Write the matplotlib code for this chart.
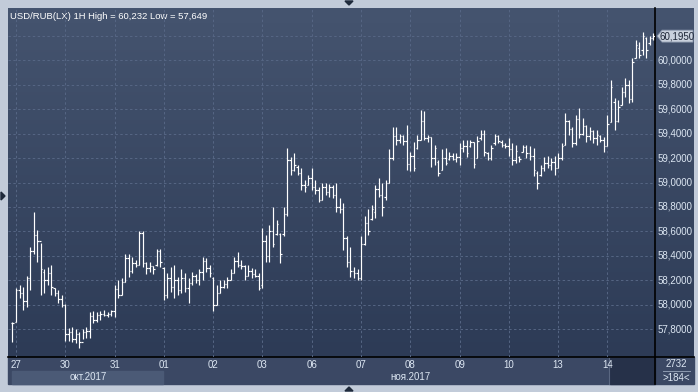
import numpy as np
import matplotlib.pyplot as plt
from matplotlib.patches import Rectangle, Polygon
from matplotlib.colors import LinearSegmentedColormap

plt.rcParams["font.family"] = ["Liberation Sans", "DejaVu Sans"]

W, H = 698, 392

title = "USD/RUB(LX) 1H High = 60,232 Low = 57,649"
day_labels = ["27", "30", "31", "01", "02", "03", "06", "07", "08", "09", "10", "13", "14"]
bars_per_day = 14
month_labels = ["окт.2017", "ноя.2017"]
y_ticks = [57.8, 58.0, 58.2, 58.4, 58.6, 58.8, 59.0, 59.2, 59.4, 59.6, 59.8, 60.0]
grid_levels = y_ticks + [60.2]
last_price_label = "60,1950"
bar_total = "2732"
bar_visible = ">184<"

# first bar is the last hour of 26 oct, then 14 hourly bars per day
high = [
    57.86,
    58.14, 58.16, 58.15, 58.24, 58.47, 58.76, 58.61, 58.51, 58.29, 58.31, 58.33, 58.14, 58.12, 58.08,
    58.01, 57.81, 57.82, 57.80, 57.78, 57.80, 57.82, 57.94, 57.95, 57.94, 57.95, 57.96, 57.94, 57.96,
    58.16, 58.20, 58.22, 58.42, 58.42, 58.39, 58.37, 58.60, 58.60, 58.35, 58.35, 58.32, 58.46, 58.46,
    58.31, 58.26, 58.31, 58.33, 58.23, 58.29, 58.26, 58.22, 58.27, 58.25, 58.29, 58.39, 58.38, 58.33,
    58.23, 58.16, 58.20, 58.20, 58.23, 58.29, 58.39, 58.43, 58.37, 58.33, 58.33, 58.30, 58.29, 58.26,
    58.63, 58.57, 58.65, 58.80, 58.69, 58.59, 58.80, 59.28, 59.21, 59.24, 59.14, 59.12, 59.02, 59.06,
    59.12, 59.02, 58.96, 59.00, 59.00, 58.99, 58.98, 59.00, 58.87, 58.83, 58.56, 58.47, 58.31, 58.29,
    58.56, 58.73, 58.78, 58.82, 58.98, 59.04, 59.00, 59.02, 59.27, 59.45, 59.45, 59.40, 59.39, 59.47,
    59.25, 59.33, 59.39, 59.59, 59.58, 59.39, 59.37, 59.31, 59.18, 59.27, 59.28, 59.25, 59.24, 59.24,
    59.32, 59.35, 59.35, 59.35, 59.33, 59.38, 59.43, 59.43, 59.25, 59.31, 59.40, 59.39, 59.35, 59.32,
    59.36, 59.32, 59.31, 59.22, 59.31, 59.31, 59.30, 59.28, 59.09, 59.14, 59.21, 59.22, 59.20, 59.22,
    59.24, 59.32, 59.57, 59.51, 59.45, 59.55, 59.61, 59.53, 59.47, 59.45, 59.43, 59.43, 59.39, 59.37,
    59.55, 59.84, 59.69, 59.67, 59.78, 59.85, 59.84, 60.02, 60.16, 60.15, 60.232, 60.19, 60.20, 60.22,
]
low = [
    57.70,
    57.86, 58.06, 57.96, 57.98, 58.12, 58.42, 58.35, 58.08, 58.10, 58.16, 58.08, 58.07, 58.02, 57.98,
    57.71, 57.71, 57.70, 57.69, 57.649, 57.72, 57.73, 57.73, 57.85, 57.86, 57.88, 57.91, 57.90, 57.91,
    57.90, 58.06, 58.08, 58.19, 58.23, 58.26, 58.31, 58.33, 58.31, 58.25, 58.27, 58.25, 58.32, 58.31,
    58.04, 58.06, 58.11, 58.06, 58.08, 58.10, 58.11, 58.02, 58.16, 58.18, 58.16, 58.20, 58.27, 58.23,
    57.95, 58.00, 58.10, 58.14, 58.14, 58.20, 58.26, 58.31, 58.29, 58.20, 58.24, 58.22, 58.23, 58.12,
    58.14, 58.35, 58.35, 58.47, 58.57, 58.34, 58.56, 58.73, 59.06, 59.09, 59.06, 58.94, 58.92, 58.98,
    58.94, 58.91, 58.84, 58.86, 58.90, 58.88, 58.87, 58.76, 58.75, 58.45, 58.31, 58.23, 58.22, 58.20,
    58.20, 58.49, 58.57, 58.69, 58.71, 58.88, 58.73, 58.86, 59.00, 59.18, 59.31, 59.32, 59.31, 59.10,
    59.09, 59.09, 59.27, 59.35, 59.35, 59.33, 59.13, 59.14, 59.05, 59.10, 59.14, 59.18, 59.18, 59.17,
    59.14, 59.25, 59.21, 59.29, 59.12, 59.20, 59.35, 59.22, 59.18, 59.18, 59.31, 59.32, 59.29, 59.28,
    59.22, 59.14, 59.16, 59.17, 59.25, 59.20, 59.18, 59.05, 58.95, 59.05, 59.09, 59.12, 59.10, 59.06,
    59.12, 59.18, 59.31, 59.39, 59.29, 59.31, 59.36, 59.39, 59.33, 59.35, 59.32, 59.31, 59.33, 59.25,
    59.30, 59.49, 59.43, 59.49, 59.63, 59.70, 59.65, 59.66, 60.02, 60.02, 60.04, 60.02, 60.12, 60.16,
]
open_ = [
    57.85,
    57.86, 58.12, 58.10, 58.03, 58.22, 58.44, 58.57, 58.52, 58.27, 58.20, 58.26, 58.14, 58.10, 58.05,
    58.00, 57.76, 57.78, 57.72, 57.76, 57.70, 57.78, 57.79, 57.91, 57.88, 57.92, 57.93, 57.92, 57.93,
    57.95, 58.13, 58.08, 58.19, 58.38, 58.28, 58.34, 58.33, 58.59, 58.34, 58.30, 58.32, 58.33, 58.44,
    58.30, 58.08, 58.22, 58.15, 58.20, 58.12, 58.22, 58.14, 58.18, 58.24, 58.20, 58.27, 58.36, 58.30,
    58.22, 58.00, 58.10, 58.15, 58.17, 58.20, 58.26, 58.36, 58.33, 58.32, 58.24, 58.28, 58.25, 58.24,
    58.16, 58.52, 58.40, 58.60, 58.58, 58.58, 58.58, 58.74, 59.18, 59.10, 59.13, 59.08, 58.98, 58.98,
    59.04, 58.96, 58.94, 58.86, 58.96, 58.92, 58.96, 58.90, 58.80, 58.78, 58.55, 58.35, 58.28, 58.26,
    58.22, 58.50, 58.67, 58.70, 58.76, 58.95, 58.90, 58.88, 59.00, 59.20, 59.38, 59.35, 59.38, 59.34,
    59.15, 59.22, 59.28, 59.35, 59.50, 59.36, 59.37, 59.20, 59.17, 59.10, 59.20, 59.19, 59.22, 59.19,
    59.21, 59.28, 59.30, 59.30, 59.33, 59.20, 59.36, 59.40, 59.24, 59.20, 59.32, 59.38, 59.33, 59.31,
    59.30, 59.27, 59.18, 59.21, 59.25, 59.29, 59.24, 59.22, 59.08, 59.06, 59.12, 59.16, 59.14, 59.17,
    59.12, 59.20, 59.31, 59.50, 59.44, 59.32, 59.52, 59.40, 59.46, 59.38, 59.42, 59.36, 59.38, 59.35,
    59.30, 59.49, 59.66, 59.50, 59.63, 59.74, 59.80, 59.68, 60.02, 60.10, 60.08, 60.18, 60.14, 60.18,
]
close = [
    57.85,
    58.12, 58.10, 58.03, 58.22, 58.44, 58.57, 58.52, 58.29, 58.20, 58.26, 58.15, 58.10, 58.05, 58.00,
    57.76, 57.78, 57.72, 57.76, 57.70, 57.78, 57.79, 57.91, 57.88, 57.92, 57.93, 57.92, 57.93, 57.95,
    58.13, 58.08, 58.19, 58.38, 58.28, 58.34, 58.33, 58.59, 58.34, 58.30, 58.32, 58.29, 58.44, 58.35,
    58.08, 58.22, 58.15, 58.20, 58.12, 58.22, 58.14, 58.18, 58.24, 58.20, 58.27, 58.36, 58.30, 58.26,
    58.00, 58.10, 58.15, 58.17, 58.20, 58.26, 58.36, 58.33, 58.32, 58.24, 58.28, 58.25, 58.24, 58.14,
    58.52, 58.40, 58.60, 58.50, 58.66, 58.42, 58.74, 59.18, 59.10, 59.14, 59.08, 58.98, 58.96, 59.04,
    58.96, 58.94, 58.86, 58.96, 58.92, 58.96, 58.90, 58.80, 58.78, 58.55, 58.35, 58.28, 58.26, 58.22,
    58.50, 58.67, 58.60, 58.78, 58.95, 58.90, 58.80, 59.00, 59.20, 59.38, 59.35, 59.38, 59.34, 59.15,
    59.22, 59.12, 59.35, 59.50, 59.36, 59.37, 59.20, 59.28, 59.08, 59.20, 59.16, 59.22, 59.19, 59.21,
    59.28, 59.30, 59.24, 59.33, 59.15, 59.34, 59.40, 59.25, 59.20, 59.28, 59.38, 59.34, 59.31, 59.30,
    59.27, 59.18, 59.26, 59.19, 59.29, 59.24, 59.22, 59.10, 59.00, 59.12, 59.16, 59.14, 59.17, 59.12,
    59.20, 59.30, 59.50, 59.44, 59.32, 59.52, 59.40, 59.46, 59.38, 59.42, 59.36, 59.39, 59.35, 59.30,
    59.48, 59.78, 59.50, 59.62, 59.74, 59.80, 59.68, 59.98, 60.12, 60.04, 60.20, 60.08, 60.18, 60.195,
]

# layout in pixels
PL, PR, PT, PB = 8, 655, 8, 357      # price area
FR, FB = 694, 384                    # outer panel edge
YLO, YHI = 57.5755, 60.4245
XLO, XHI = -1.27, 182.5

panel_top = "#45546f"
panel_bot = "#2b3954"
strip_col = "#3b4864"
grid_col = "#566684"
text_col = "#dce6f2"


def ypx(v):
    return PB - (v - YLO) / (YHI - YLO) * (PB - PT)


fig = plt.figure(figsize=(W / 100, H / 100), dpi=100)
fig.patch.set_facecolor("#c2cbd9")

bg = fig.add_axes([0, 0, 1, 1])
bg.set_xlim(0, W)
bg.set_ylim(H, 0)
bg.axis("off")

cmap = LinearSegmentedColormap.from_list("panel", [panel_top, panel_bot])
bg.imshow(np.linspace(0, 1, 256)[:, None], cmap=cmap, extent=[PL, FR, FB, PT],
          aspect="auto", zorder=0)

# bottom date strip
bg.add_patch(Rectangle((PL, PB), FR - PL, FB - PB, color=strip_col, zorder=1))
bg.add_patch(Rectangle((12, 371), 151, FB - 371, color="#4b5a76", zorder=1))
bg.add_patch(Rectangle((610, PB + 1), PR - 610, FB - PB - 1, color="#263149", zorder=1))
bg.plot([609, 609], [PB + 1, FB], color="#5a6781", lw=0.8, zorder=2)
bg.text(88, 377.5, month_labels[0], color=text_col, fontsize=7, ha="center", va="center", zorder=3)
bg.text(410, 377, month_labels[1], color=text_col, fontsize=7, ha="center", va="center", zorder=3)

# bar counter box
bg.text(676, 364, bar_total, color=text_col, fontsize=7, ha="center", va="center", zorder=3)
bg.plot([663, 690], [370.5, 370.5], color="#8d9ab0", lw=0.7, zorder=3)
bg.text(676, 378, bar_visible, color=text_col, fontsize=7, ha="center", va="center", zorder=3)

# black separators
bg.plot([PR, PR], [PT, FB], color="black", lw=1.2, zorder=4)
bg.plot([PL, FR], [PB, PB], color="black", lw=1.2, zorder=4)

# small frame arrows
arrow_col = "#1f2a3b"
bg.add_patch(Polygon([(345, 1), (353, 1), (349, 5)], color=arrow_col, zorder=4))
bg.add_patch(Polygon([(1, 192), (1, 200), (5, 196)], color=arrow_col, zorder=4))
bg.add_patch(Polygon([(345, 391), (353, 391), (349, 387)], color=arrow_col, zorder=4))

bg.text(10, 16, title, color="white", fontsize=6.8, ha="left", va="center", zorder=5)

# price area
ax = fig.add_axes([PL / W, 1 - PB / H, (PR - PL) / W, (PB - PT) / H])
ax.set_facecolor("none")
ax.set_xlim(XLO, XHI)
ax.set_ylim(YLO, YHI)
ax.axis("off")

day_pos = [1 + bars_per_day * d for d in range(len(day_labels))]
for v in grid_levels:
    ax.axhline(v, color=grid_col, lw=0.7, ls=(0, (2.5, 2.5)), zorder=1)
for p in day_pos:
    ax.axvline(p, color=grid_col, lw=0.7, ls=(0, (2.5, 2.5)), zorder=1)

x = np.arange(len(high))
ax.vlines(x, low, high, color="white", lw=0.85, zorder=3)
ax.hlines(open_, x - 0.42, x, color="white", lw=0.85, zorder=3)
ax.hlines(close, x, x + 0.42, color="white", lw=0.85, zorder=3)

xt = ax.get_xaxis_transform()
for p, lab in zip(day_pos, day_labels):
    ax.text(p, -0.024, lab, transform=xt, color=text_col, fontsize=7,
            ha="center", va="center", clip_on=False)

yt = ax.get_yaxis_transform()
for v in y_ticks:
    ax.text(1.0046, v, f"{v:.4f}".replace(".", ","), transform=yt, color=text_col,
            fontsize=7, ha="left", va="center", clip_on=False)

# last price marker
yl = ypx(close[-1])
bg.add_patch(Polygon([(657, yl), (662, yl - 6), (693, yl - 6), (693, yl + 6), (662, yl + 6)],
                     facecolor="#c9d1dd", edgecolor="#8390a6", lw=0.6, zorder=6))
bg.text(677.5, yl, last_price_label, color="#1c2536", fontsize=7, ha="center", va="center", zorder=7)

fig.savefig("out.png", dpi=100, facecolor=fig.get_facecolor())
